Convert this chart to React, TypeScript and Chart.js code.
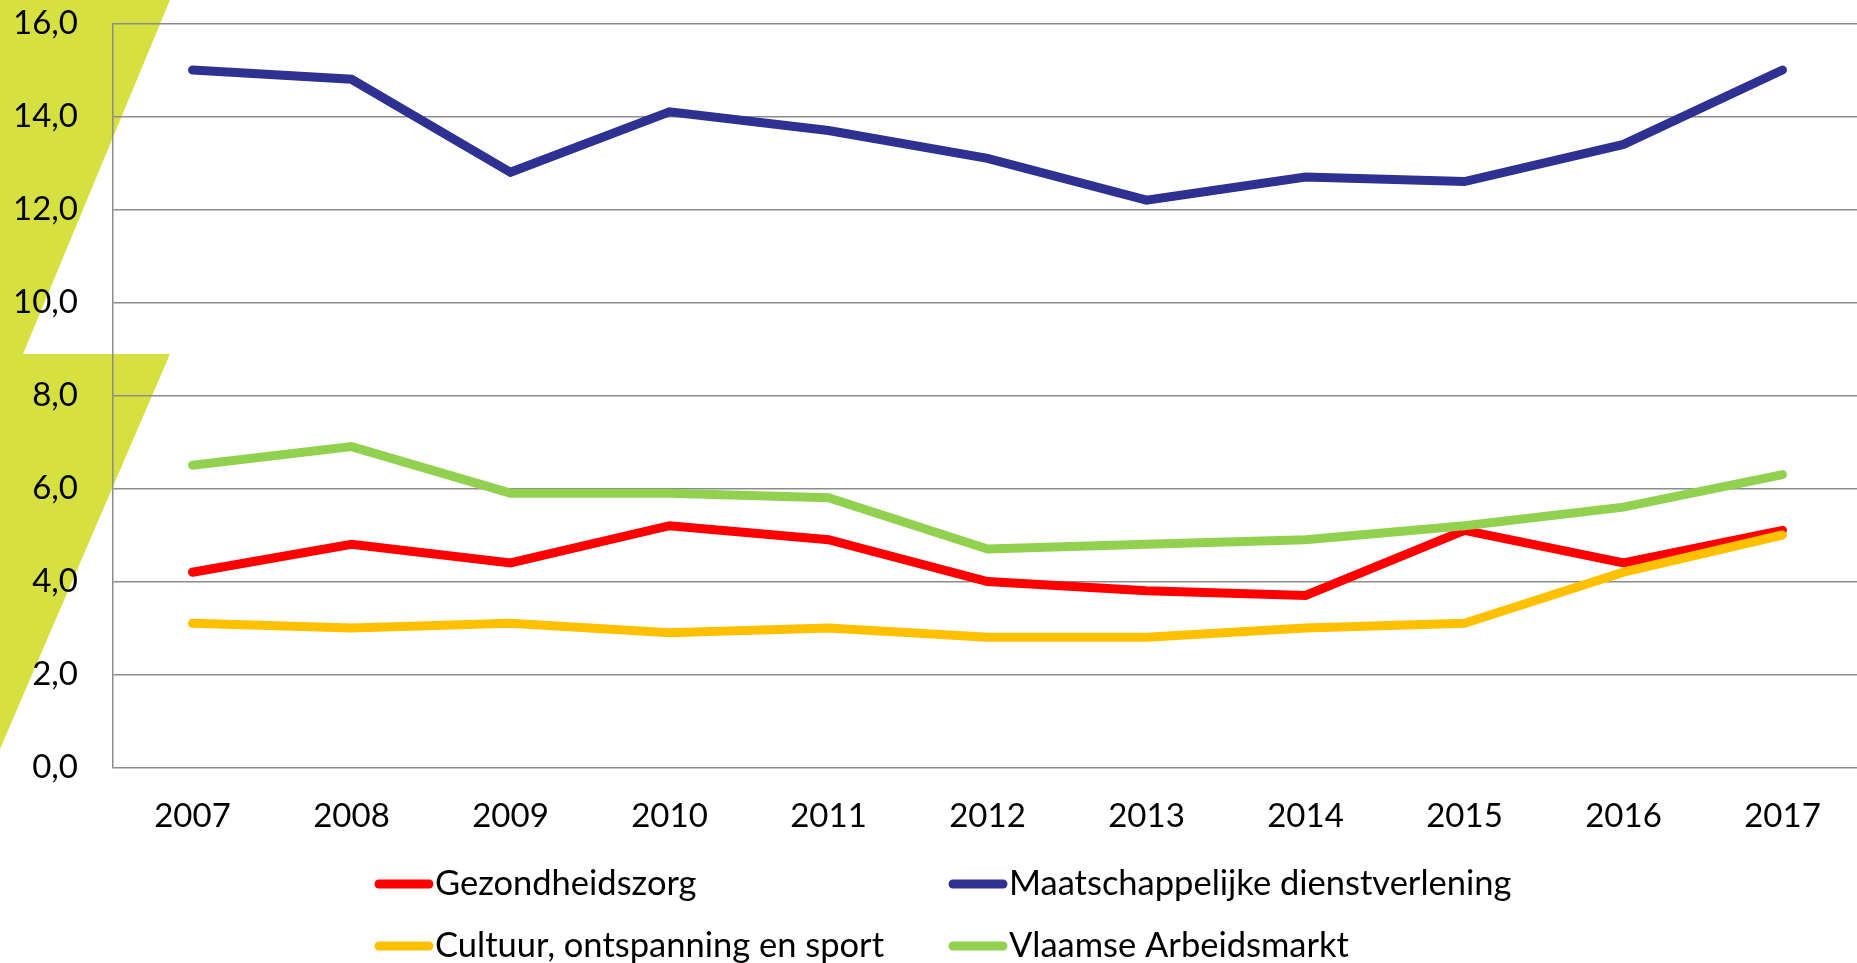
import React, { useEffect, useRef } from "react";
import { Chart, registerables } from "chart.js";

Chart.register(...registerables);

const years = ["2007", "2008", "2009", "2010", "2011", "2012", "2013", "2014", "2015", "2016", "2017"];
const gezondheidszorg = [4.2, 4.8, 4.4, 5.2, 4.9, 4.0, 3.8, 3.7, 5.1, 4.4, 5.1];
const maatschappelijkeDienstverlening = [15.0, 14.8, 12.8, 14.1, 13.7, 13.1, 12.2, 12.7, 12.6, 13.4, 15.0];
const cultuurOntspanningSport = [3.1, 3.0, 3.1, 2.9, 3.0, 2.8, 2.8, 3.0, 3.1, 4.2, 5.0];
const vlaamseArbeidsmarkt = [6.5, 6.9, 5.9, 5.9, 5.8, 4.7, 4.8, 4.9, 5.2, 5.6, 6.3];
const seriesLabels = [
  "Gezondheidszorg",
  "Maatschappelijke dienstverlening",
  "Cultuur, ontspanning en sport",
  "Vlaamse Arbeidsmarkt",
];
const seriesColors = ["#FF0000", "#2E3192", "#FFC000", "#92D050"];
const yTickLabels = ["0,0", "2,0", "4,0", "6,0", "8,0", "10,0", "12,0", "14,0", "16,0"];

const FONT = "Lato";
const DECO = "rgb(214,224,64)";
const GRID = "#8c8c8c";

const decoPlugin = {
  id: "deco",
  beforeDraw(chart: any) {
    const ctx = chart.ctx;
    ctx.save();
    ctx.fillStyle = DECO;
    ctx.beginPath();
    ctx.moveTo(0, 0);
    ctx.lineTo(170, 0);
    ctx.lineTo(23, 354);
    ctx.lineTo(0, 354);
    ctx.closePath();
    ctx.fill();
    ctx.beginPath();
    ctx.moveTo(0, 354);
    ctx.lineTo(170, 354);
    ctx.lineTo(0, 749);
    ctx.closePath();
    ctx.fill();
    ctx.restore();
  },
};

const legendPlugin = {
  id: "gridLegend",
  afterDraw(chart: any) {
    const ctx = chart.ctx;
    const colX = [379, 953];
    const rowY = [884, 946];
    ctx.save();
    chart.data.datasets.forEach((ds: any, i: number) => {
      const col = i % 2;
      const row = Math.floor(i / 2);
      const x = colX[col];
      const y = rowY[row];
      ctx.strokeStyle = ds.borderColor;
      ctx.lineWidth = 9;
      ctx.lineCap = "round";
      ctx.beginPath();
      ctx.moveTo(x, y);
      ctx.lineTo(x + 50, y);
      ctx.stroke();
      ctx.fillStyle = "#000";
      ctx.font = `34.5px ${FONT}`;
      ctx.textAlign = "left";
      ctx.textBaseline = "middle";
      ctx.fillText(ds.label, x + 56, y);
    });
    ctx.restore();
  },
};

export default function App() {
  const ref = useRef<HTMLCanvasElement>(null);

  useEffect(() => {
    if (!ref.current) return;
    const seriesData = [gezondheidszorg, maatschappelijkeDienstverlening, cultuurOntspanningSport, vlaamseArbeidsmarkt];
    const drawOrder = [4, 3, 2, 1];
    const chart = new Chart(ref.current, {
      type: "line",
      data: {
        labels: years,
        datasets: seriesData.map((d, i) => ({
          label: seriesLabels[i],
          data: d,
          borderColor: seriesColors[i],
          backgroundColor: seriesColors[i],
          borderWidth: 9,
          borderCapStyle: "round",
          borderJoinStyle: "miter",
          pointRadius: 0,
          tension: 0,
          fill: false,
          order: drawOrder[i],
        })),
      },
      options: {
        responsive: false,
        animation: false,
        layout: { padding: { top: 23.5, right: 4, left: 0, bottom: 0 } },
        plugins: {
          legend: { display: false },
          tooltip: { enabled: false },
        },
        scales: {
          x: {
            offset: true,
            grid: { display: false, drawTicks: false },
            border: { display: false },
            ticks: {
              color: "#000",
              font: { family: FONT, size: 33 },
              padding: 29,
              maxRotation: 0,
              autoSkip: false,
            },
            afterFit: (s: any) => {
              s.height = 963 - 767.5;
            },
          },
          y: {
            min: 0,
            max: 16,
            ticks: {
              stepSize: 2,
              color: "#000",
              font: { family: FONT, size: 33 },
              padding: 35,
              callback: (_v: any, i: number) => yTickLabels[i],
            },
            grid: { color: GRID, lineWidth: 1.5, drawTicks: false },
            border: { color: GRID, width: 1.5 },
            afterFit: (s: any) => {
              s.width = 113;
              s.paddingTop = 0;
              s.paddingBottom = 0;
            },
          },
        },
      } as any,
      plugins: [decoPlugin, legendPlugin],
    });
    return () => chart.destroy();
  }, []);

  return (
    <div style={{ position: "absolute", left: 0, top: 0, width: 1857, height: 963, overflow: "hidden", background: "#fff" }}>
      <canvas ref={ref} width={1866} height={963} style={{ display: "block" }} />
    </div>
  );
}
